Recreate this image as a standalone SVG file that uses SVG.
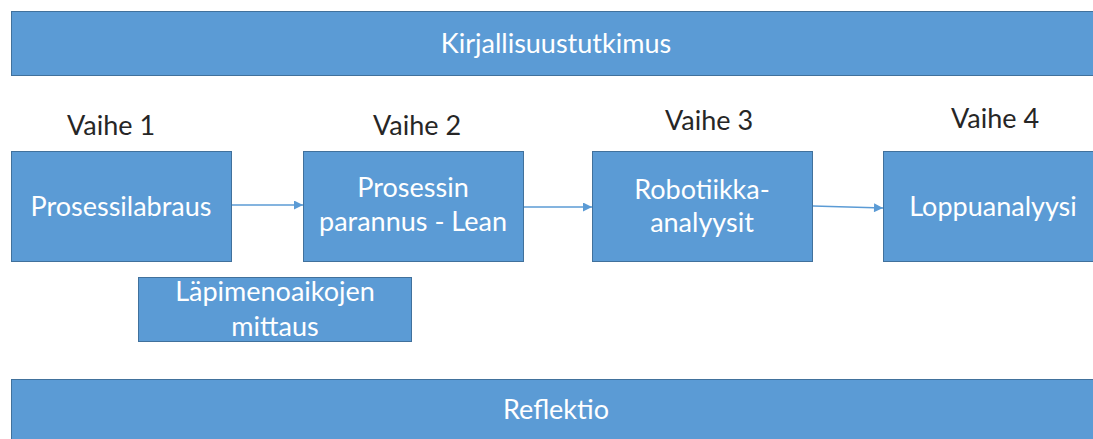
<svg xmlns="http://www.w3.org/2000/svg" width="1093" height="439" viewBox="0 0 1093 439">
  <style>
    .box { fill: #5B9BD5; stroke: #41719C; stroke-width: 1; }
    .t { font-family: Lato, "Liberation Sans", sans-serif; font-size: 27px; text-anchor: middle; }
    .w { fill: #FFFFFF; }
    .d { fill: #262626; }
    .conn { stroke: #5B9BD5; stroke-width: 1.6; fill: none; marker-end: url(#arrow); }
  </style>
  <defs>
    <marker id="arrow" viewBox="0 0 10 10" refX="10" refY="5" markerUnits="userSpaceOnUse" markerWidth="10" markerHeight="9" orient="auto">
      <path d="M0,0 L10,5 L0,10 Z" fill="#5B9BD5"/>
    </marker>
  </defs>
  <rect width="1093" height="439" fill="#FFFFFF"/>

  <g id="kirjallisuustutkimus">
    <rect class="box" x="11.5" y="11.5" width="1090" height="64"/>
    <text class="t w" x="556" y="53">Kirjallisuustutkimus</text>
  </g>

  <g id="vaihe-labels">
    <text class="t d" x="111" y="135">Vaihe 1</text>
    <text class="t d" x="417" y="135">Vaihe 2</text>
    <text class="t d" x="709" y="130">Vaihe 3</text>
    <text class="t d" x="995" y="128">Vaihe 4</text>
  </g>

  <g id="prosessilabraus">
    <rect class="box" x="11.5" y="151.5" width="220" height="110"/>
    <text class="t w" x="121" y="216">Prosessilabraus</text>
  </g>

  <g id="prosessin-parannus">
    <rect class="box" x="303.5" y="151.5" width="220" height="110"/>
    <text class="t w" x="413" y="197">Prosessin</text>
    <text class="t w" x="413" y="231">parannus - Lean</text>
  </g>

  <g id="robotiikka-analyysit">
    <rect class="box" x="592.5" y="151.5" width="220" height="110"/>
    <text class="t w" x="702" y="199">Robotiikka-</text>
    <text class="t w" x="702" y="232">analyysit</text>
  </g>

  <g id="loppuanalyysi">
    <rect class="box" x="883.5" y="151.5" width="220" height="110"/>
    <text class="t w" x="993" y="216">Loppuanalyysi</text>
  </g>

  <g id="lapimenoaikojen-mittaus">
    <rect class="box" x="138.5" y="277.5" width="273" height="64"/>
    <text class="t w" x="275" y="301">Läpimenoaikojen</text>
    <text class="t w" x="275" y="336">mittaus</text>
  </g>

  <g id="reflektio">
    <rect class="box" x="11.5" y="379.5" width="1090" height="64"/>
    <text class="t w" x="556" y="419">Reflektio</text>
  </g>

  <g id="connectors">
    <line class="conn" x1="232" y1="205" x2="303" y2="205"/>
    <line class="conn" x1="524" y1="207" x2="592" y2="207"/>
    <line class="conn" x1="813" y1="206" x2="883" y2="208"/>
  </g>
</svg>
